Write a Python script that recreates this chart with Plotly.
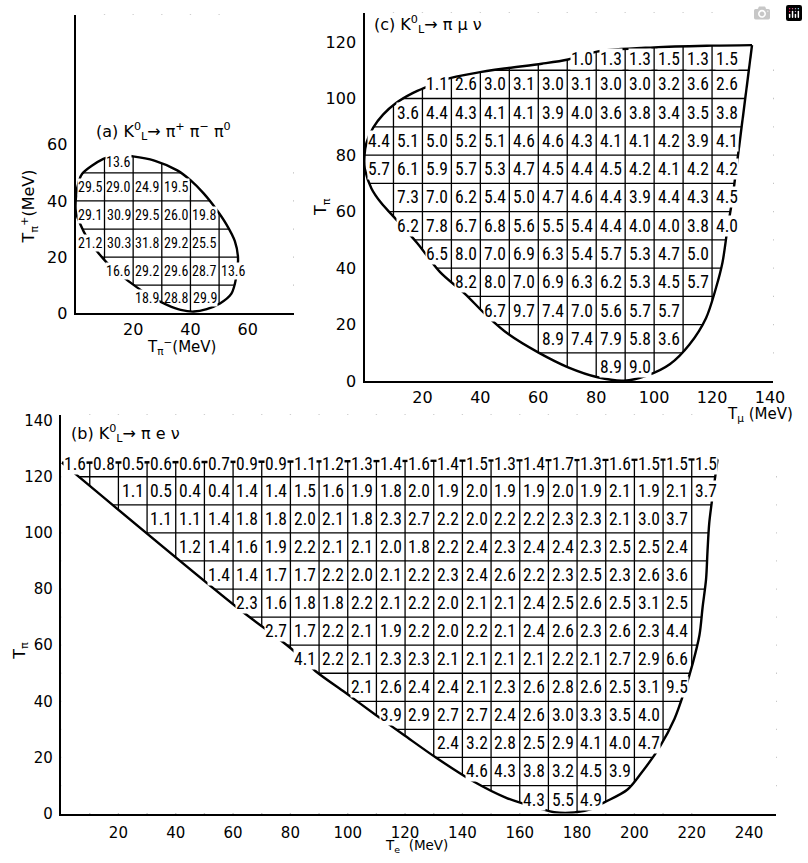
import glob
import os
import subprocess
import plotly.graph_objects as go

W, H = 808, 863

# ------------------------------------------------------------------ data
CELL = 10  # MeV, bin width of every panel

# Panel (a)  K_L -> pi+ pi- pi0   (x: T_pi-, y: T_pi+)
A_ROW_Y = [54, 45, 35, 25, 15, 5.5]
A_ROW_FIRST_COL = [1, 0, 0, 0, 1, 2]
A_VALUES = [
    [13.6],
    [29.5, 29.0, 24.9, 19.5],
    [29.1, 30.9, 29.5, 26.0, 19.8],
    [21.2, 30.3, 31.8, 29.2, 25.5],
    [16.6, 29.2, 29.6, 28.7, 13.6],
    [18.9, 28.8, 29.9],
]
A_GRID_X = [10, 20, 30, 40, 50]
A_GRID_Y = [10, 20, 30, 40, 50]
A_BOUND_X = [2.2, 9.6, 14.5, 19.9, 27.4, 35.4, 40.0, 44.6, 49.2, 52.6, 55.5, 56.6, 56.0, 54.3, 50.3,
             45.7, 41.2, 36.6, 32.0, 26.2, 21.1, 15.9, 11.3, 7.3, 3.9, 1.6, 0.0, 0.1, 1.0, 2.2]
A_BOUND_Y = [49.7, 55.0, 56.3, 55.9, 54.4, 50.9, 47.4, 42.7, 36.8, 31.6, 25.7, 19.9, 12.9, 7.0, 3.5,
             1.5, 0.6, 1.2, 2.9, 5.9, 9.4, 13.4, 17.5, 22.2, 26.9, 31.6, 36.2, 42.1, 46.8, 49.7]
A_XTICKS = [20, 40, 60]
A_YTICKS = [0, 20, 40, 60]

# Panel (c)  K_L -> pi mu nu   (x: T_mu, y: T_pi)
C_ROW_Y = [114, 105, 95, 85, 75, 65, 55, 45, 35, 25, 15, 5]
C_ROW_FIRST_COL = [7, 2, 1, 0, 0, 1, 1, 2, 3, 4, 6, 8]
C_VALUES = [
    [1.0, 1.3, 1.3, 1.5, 1.3, 1.5],
    [1.1, 2.6, 3.0, 3.1, 3.0, 3.1, 3.0, 3.0, 3.2, 3.6, 2.6],
    [3.6, 4.4, 4.3, 4.1, 4.1, 3.9, 4.0, 3.6, 3.8, 3.4, 3.5, 3.8],
    [4.4, 5.1, 5.0, 5.2, 5.1, 4.6, 4.6, 4.3, 4.1, 4.1, 4.2, 3.9, 4.1],
    [5.7, 6.1, 5.9, 5.7, 5.3, 4.7, 4.5, 4.4, 4.5, 4.2, 4.1, 4.2, 4.2],
    [7.3, 7.0, 6.2, 5.4, 5.0, 4.7, 4.6, 4.4, 3.9, 4.4, 4.3, 4.5],
    [6.2, 7.8, 6.7, 6.8, 5.6, 5.5, 5.4, 4.4, 4.0, 4.0, 3.8, 4.0],
    [6.5, 8.0, 7.0, 6.9, 6.3, 5.4, 5.7, 5.3, 4.7, 5.0],
    [8.2, 8.0, 7.0, 6.9, 6.3, 6.2, 5.3, 4.5, 5.7],
    [6.7, 9.7, 7.4, 7.0, 5.6, 5.7, 5.7],
    [8.9, 7.4, 7.9, 5.8, 3.6],
    [8.9, 9.0],
]
C_GRID_X = [10, 20, 30, 40, 50, 60, 70, 80, 90, 100, 110, 120]
C_GRID_Y = [10, 20, 30, 40, 50, 60, 70, 80, 90, 100, 110]
# curved part of the boundary (from the lower end of the straight right edge round to the top corner)
C_BOUND_X = [127.0, 125.3, 123.6, 121.3, 117.9, 112.2, 105.4, 97.5, 89.6, 80.5, 70.3,
             60.1, 49.9, 41.9, 34.6, 26.1, 18.1, 9.8, 5.8, 2.4, 0.1, 0.0, 0.7, 3.0, 6.4, 10.9, 16.6,
             21.7, 28.0, 38.1, 48.3, 61.2, 70.3, 80.3, 100.0, 120.0, 133.8]
C_BOUND_Y = [64.1, 53.7, 42.0, 32.8, 22.3, 13.0, 6.0, 2.0, 0.2, 1.4, 4.9,
             10.1, 16.5, 23.5, 31.0, 38.6, 49.0, 58.5, 63.0, 68.2, 75.2, 79.8, 84.4, 89.7, 94.3, 98.4,
             101.9, 104.2, 106.8, 109.0, 110.6, 112.3, 113.8, 116.6, 118.1, 118.7, 118.9]
# straight right edge
C_EDGE_X = [133.8, 127.0]
C_EDGE_Y = [118.9, 64.1]
C_XTICKS = [20, 40, 60, 80, 100, 120, 140]
C_YTICKS = [0, 20, 40, 60, 80, 100, 120]

# Panel (b)  K_L -> pi e nu   (x: T_e, y: T_pi)
B_ROW_Y = [124.5, 115, 105, 95, 85, 75, 65, 55, 45, 35, 25, 15, 5]
B_ROW_FIRST_COL = [0, 2, 3, 4, 5, 6, 7, 8, 10, 11, 13, 14, 16]
B_VALUES = [
    [1.6, 0.8, 0.5, 0.6, 0.6, 0.7, 0.9, 0.9, 1.1, 1.2, 1.3, 1.4, 1.6, 1.4, 1.5, 1.3, 1.4, 1.7, 1.3,
     1.6, 1.5, 1.5, 1.5],
    [1.1, 0.5, 0.4, 0.4, 1.4, 1.4, 1.5, 1.6, 1.9, 1.8, 2.0, 1.9, 2.0, 1.9, 1.9, 2.0, 1.9, 2.1, 1.9,
     2.1, 3.7],
    [1.1, 1.1, 1.4, 1.8, 1.8, 2.0, 2.1, 1.8, 2.3, 2.7, 2.2, 2.0, 2.2, 2.2, 2.3, 2.3, 2.1, 3.0, 3.7],
    [1.2, 1.4, 1.6, 1.9, 2.2, 2.1, 2.1, 2.0, 1.8, 2.2, 2.4, 2.3, 2.4, 2.4, 2.3, 2.5, 2.5, 2.4],
    [1.4, 1.4, 1.7, 1.7, 2.2, 2.0, 2.1, 2.2, 2.3, 2.4, 2.6, 2.2, 2.3, 2.5, 2.3, 2.6, 3.6],
    [2.3, 1.6, 1.8, 1.8, 2.2, 2.1, 2.2, 2.0, 2.1, 2.1, 2.4, 2.5, 2.6, 2.5, 3.1, 2.5],
    [2.7, 1.7, 2.2, 2.1, 1.9, 2.2, 2.0, 2.2, 2.1, 2.4, 2.6, 2.3, 2.6, 2.3, 4.4],
    [4.1, 2.2, 2.1, 2.3, 2.3, 2.1, 2.1, 2.1, 2.1, 2.2, 2.1, 2.7, 2.9, 6.6],
    [2.1, 2.6, 2.4, 2.4, 2.1, 2.3, 2.6, 2.8, 2.6, 2.5, 3.1, 9.5],
    [3.9, 2.9, 2.7, 2.7, 2.4, 2.6, 3.0, 3.3, 3.5, 4.0],
    [2.4, 3.2, 2.8, 2.5, 2.9, 4.1, 4.0, 4.7],
    [4.6, 4.3, 3.8, 3.2, 4.5, 3.9],
    [4.3, 5.5, 4.9],
]
B_GRID_X = [10, 20, 30, 40, 50, 60, 70, 80, 90, 100, 110, 120, 130, 140, 150, 160, 170, 180, 190,
            200, 210, 220]
B_GRID_Y = [10, 20, 30, 40, 50, 60, 70, 80, 90, 100, 110, 120]
B_TOP_X = [0.3, 229.0]
B_TOP_Y = [125.0, 126.2]
B_BOUND_X = [229.0, 227.3, 226.1, 225.5, 225.0, 223.8, 222.7, 220.4, 217.5, 214.0, 208.9, 202.0,
             197.5, 189.5, 184.9, 179.0, 172.0, 167.7, 155.1, 143.6, 131.0, 119.6, 109.3, 99.0,
             88.7, 80.1, 61.2, 0.3]
B_BOUND_Y = [126.2, 113.3, 103.4, 93.4, 83.5, 73.6, 63.6, 53.7, 43.8, 33.8, 23.9, 13.9,
             8.5, 4.0, 1.6, 0.4, 0.5, 1.6, 5.7, 11.6, 19.8, 28.0, 35.5, 43.2,
             50.8, 58.9, 73.6, 125.0]
B_XTICKS = [20, 40, 60, 80, 100, 120, 140, 160, 180, 200, 220, 240]
B_YTICKS = [0, 20, 40, 60, 80, 100, 120, 140]

# ------------------------------------------------------------------ fonts
def _installed_families():
    fams = set()
    try:
        out = subprocess.run(["fc-list", ":", "family"], capture_output=True,
                             text=True, timeout=20).stdout
        for line in out.splitlines():
            for part in line.split(","):
                fams.add(part.strip().lower())
    except Exception:
        pass
    files = set()
    for root in ["/usr/share/fonts", "/usr/local/share/fonts",
                 os.path.expanduser("~/.fonts"), os.path.expanduser("~/.local/share/fonts")]:
        for f in glob.glob(os.path.join(root, "**", "*.[ot]tf"), recursive=True):
            files.add(os.path.basename(f).lower())
    return fams, files


_FAMS, _FILES = _installed_families()
# (family, file-name marker, em-width of "d.d", em-width of "dd.d")
_CANDIDATES = [
    ("Liberation Sans Narrow", "liberationsansnarrow-regular", 1.14, 1.60),
    ("Roboto Condensed", "robotocondensed-regular", 1.26, 1.77),
]
NUM_FONT, R3, R4 = "Liberation Sans, Arial, sans-serif", 1.39, 1.95
for fam, marker, r3, r4 in _CANDIDATES:
    if fam.lower() in _FAMS or any(f.startswith(marker) for f in _FILES):
        NUM_FONT, R3, R4 = fam + ", Liberation Sans, sans-serif", r3, r4
        break
SIZE_BC = min(17.5, 22.5 / R3)
SIZE_A = min(14.0, 25.0 / R4)

TICK_FONT = "DejaVu Sans"

# ------------------------------------------------------------------ layout geometry (pixels)
def px_x(px):
    return px / W


def px_y(py):
    return 1 - py / H


PANELS = {
    # name: (x axis id, y axis id, left, right, top, bottom px, xrange, yrange)
    "a": ("x", "y", 77, 298, 12, 315, [0, 76], [0, 106.3]),
    "c": ("x2", "y2", 370, 785, 10, 384, [0, 141.16], [0, 130.3]),
    "b": ("x3", "y3", 62, 788, 418, 823, [0, 249.5], [0, 142.1]),
}

fig = go.Figure()
shapes = []
annotations = []


def add_panel(key, row_y, first_col, values, grid_x, grid_y, bx, by, size, extra_lines=()):
    xa, ya, l, r, t, b, xr, yr = PANELS[key]
    # grid lines (masked outside the kinematic boundary)
    for g in grid_x:
        shapes.append(dict(type="line", xref=xa, yref=ya, x0=g, x1=g, y0=yr[0] - 3,
                           y1=yr[1] + 3, line=dict(color="black", width=1.3), layer="below"))
    for g in grid_y:
        shapes.append(dict(type="line", xref=xa, yref=ya, x0=xr[0] - 3, x1=xr[1] + 3, y0=g,
                           y1=g, line=dict(color="black", width=1.3), layer="below"))
    outer = (f"M{xr[0]-10},{yr[0]-10} L{xr[1]+10},{yr[0]-10} L{xr[1]+10},{yr[1]+10} "
             f"L{xr[0]-10},{yr[1]+10} Z")
    inner = "M" + " L".join(f"{x},{y}" for x, y in zip(bx, by)) + " Z"
    shapes.append(dict(type="path", xref=xa, yref=ya, path=outer + " " + inner,
                       fillcolor="white", fillrule="evenodd", line=dict(width=0),
                       layer="below"))
    # boundary curve
    fig.add_trace(go.Scatter(x=bx, y=by, mode="lines", xaxis=xa, yaxis=ya,
                             line=dict(color="black", width=2.4, shape="spline", smoothing=0.9),
                             hoverinfo="skip"))
    for lx, ly in extra_lines:
        fig.add_trace(go.Scatter(x=lx, y=ly, mode="lines", xaxis=xa, yaxis=ya,
                                 line=dict(color="black", width=2.4), hoverinfo="skip"))
    # cell values; labels that sit on the boundary get a white backing that breaks the curve
    for ri, (yv, c0, vals) in enumerate(zip(row_y, first_col, values)):
        for i, v in enumerate(vals):
            on_edge = ri == 0 or i == 0 or i == len(vals) - 1
            annotations.append(dict(
                x=(c0 + i) * CELL + CELL / 2, y=yv, xref=xa, yref=ya, text=f"{v:.1f}",
                showarrow=False, xanchor="center", yanchor="middle",
                bgcolor="white" if on_edge else "rgba(0,0,0,0)",
                borderpad=0, font=dict(family=NUM_FONT, size=size, color="black")))


add_panel("a", A_ROW_Y, A_ROW_FIRST_COL, A_VALUES, A_GRID_X, A_GRID_Y, A_BOUND_X, A_BOUND_Y,
          SIZE_A)
add_panel("c", C_ROW_Y, C_ROW_FIRST_COL, C_VALUES, C_GRID_X, C_GRID_Y, C_BOUND_X, C_BOUND_Y,
          SIZE_BC, extra_lines=[(C_EDGE_X, C_EDGE_Y)])
add_panel("b", B_ROW_Y, B_ROW_FIRST_COL, B_VALUES, B_GRID_X, B_GRID_Y, B_BOUND_X, B_BOUND_Y,
          SIZE_BC, extra_lines=[(B_TOP_X, B_TOP_Y)])


def axis(key, which, ticks, size, standoff):
    xa, ya, l, r, t, b, xr, yr = PANELS[key]
    d = dict(showline=True, linecolor="black", linewidth=2.4, showgrid=False, zeroline=False,
             ticks="", tickvals=ticks, ticktext=[str(v) for v in ticks],
             tickfont=dict(family=TICK_FONT, size=size, color="black"),
             ticklabelstandoff=standoff, fixedrange=True)
    if which == "x":
        d.update(domain=[px_x(l), px_x(r)], range=xr, anchor=ya)
    else:
        d.update(domain=[px_y(b), px_y(t)], range=yr, anchor=xa)
    return d


layout = dict(
    width=W, height=H, margin=dict(l=0, r=0, t=0, b=0), showlegend=False,
    paper_bgcolor="white", plot_bgcolor="white",
    xaxis=axis("a", "x", A_XTICKS, 16, 0), yaxis=axis("a", "y", A_YTICKS, 16, 3),
    xaxis2=axis("c", "x", C_XTICKS, 16, 0), yaxis2=axis("c", "y", C_YTICKS, 16, 3),
    xaxis3=axis("b", "x", B_XTICKS, 15, 4), yaxis3=axis("b", "y", B_YTICKS, 15, 3),
)


def label(text, px, py, size=16, angle=0, xanchor="center"):
    annotations.append(dict(x=px_x(px), y=px_y(py), xref="paper", yref="paper", text=text,
                            showarrow=False, xanchor=xanchor, yanchor="middle",
                            textangle=angle,
                            font=dict(family=TICK_FONT, size=size, color="black")))


K = "K<sup>0</sup><sub>L</sub>→"
label(f"(a) {K} π<sup>+</sup> π<sup>−</sup> π<sup>0</sup>", 95, 130, 16, xanchor="left")
label(f"(c) {K} π μ ν", 378, 22, 16, xanchor="left")
label(f"(b) {K} π e ν", 70, 437, 16, xanchor="left")
label("T<sub>π</sub><sup>+</sup>(MeV)", 30, 207, 16, -90)
label("T<sub>π</sub><sup>−</sup>(MeV)", 184, 349, 15)
label("T<sub>π</sub>", 327, 207, 16, -90)
label("T<sub>μ</sub> (MeV)", 771, 418, 15)
label("T<sub>π</sub>", 20, 658, 16, -90)
label("T<sub>e</sub>\u00a0\u00a0(MeV)", 423, 856, 13.5)

layout["shapes"] = shapes
layout["annotations"] = annotations
fig.update_layout(**layout)

fig.write_html("out.html",
               post_script="document.body.style.margin='0';document.body.style.overflow='hidden';")
